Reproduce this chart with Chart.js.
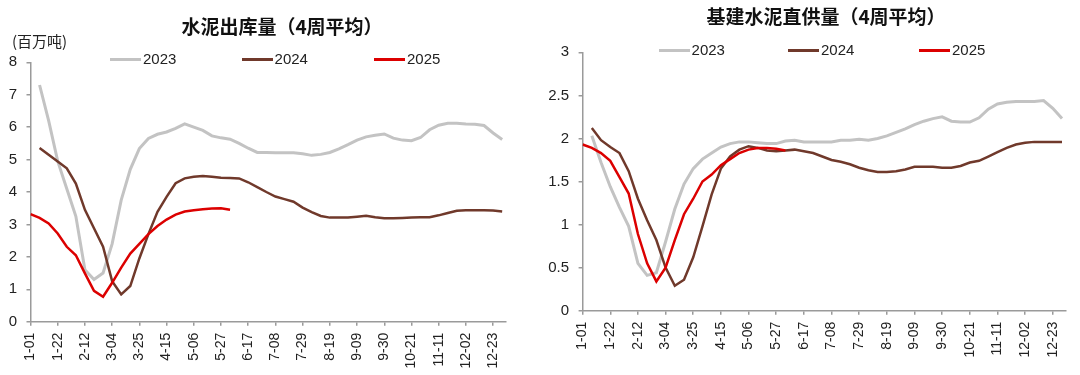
<!DOCTYPE html>
<html>
<head>
<meta charset="utf-8">
<script src="https://cdn.jsdelivr.net/npm/chart.js@4.4.1/dist/chart.umd.min.js"></script>
<style>
  body { margin: 0; background: #fff; }
  #page { position: relative; width: 1080px; height: 375px; overflow: hidden; background: #fff; }
  .panel { position: absolute; top: 0; width: 540px; height: 375px; }
  .title { position: absolute; font: bold 19px "Noto Sans CJK SC", sans-serif; color: #111;
           transform: translateX(-50%); white-space: nowrap; line-height: 24px; }
  .unit { position: absolute; font: 15px "Noto Sans CJK SC", sans-serif; color: #222; line-height: 18px; }
  .lg-line { position: absolute; width: 31px; height: 3px; }
  .lg-text { position: absolute; font: 15px "Liberation Sans", Arial, sans-serif; color: #222; line-height: 18px; }
</style>
</head>
<body>
<div id="page">
  <div class="panel" style="left:0"><canvas id="leftChart" width="540" height="375"></canvas></div>
  <div class="panel" style="left:540px"><canvas id="rightChart" width="540" height="375"></canvas></div>
  <div class="title" style="left:282px; top:14px">水泥出库量（4周平均）</div>
  <div class="title" style="left:826px; top:4px">基建水泥直供量（4周平均）</div>
  <div class="unit" style="left:12px; top:32px">(百万吨)</div>
  <div id="legends"></div>
</div>
<script>
// 周度日期标签（x轴）
const weeks = ['1-01','1-08','1-15','1-22','1-29','2-05','2-12','2-19','2-26','3-04','3-11','3-18','3-25',
  '4-01','4-08','4-15','4-22','4-29','5-06','5-13','5-20','5-27','6-03','6-10','6-17','6-24',
  '7-01','7-08','7-15','7-22','7-29','8-05','8-12','8-19','8-26','9-02','9-09','9-16','9-23','9-30',
  '10-07','10-14','10-21','10-28','11-04','11-11','11-18','11-25','12-02','12-09','12-16','12-23','12-30'];

const seriesNames = ['2023', '2024', '2025'];
const seriesColors = ['#c3c3c3', '#70392b', '#dc0000'];

// 水泥出库量（百万吨）
const outbound2023 = [null, 7.3, 6.2, 4.95, 4.1, 3.25, 1.6, 1.3, 1.5, 2.4, 3.75, 4.7, 5.34, 5.65, 5.78, 5.85, 5.96, 6.1, 6.0, 5.9,
  5.73, 5.67, 5.63, 5.5, 5.35, 5.22, 5.22, 5.21, 5.21, 5.21, 5.18, 5.13, 5.16, 5.22, 5.33, 5.46, 5.6, 5.7, 5.75, 5.79,
  5.66, 5.6, 5.58, 5.68, 5.92, 6.06, 6.12, 6.12, 6.1, 6.09, 6.05, 5.82, 5.62];
const outbound2024 = [null, 5.36, 5.15, 4.94, 4.73, 4.26, 3.45, 2.88, 2.31, 1.25, 0.84, 1.1, 1.95, 2.7, 3.39, 3.85, 4.27, 4.42, 4.47, 4.49,
  4.47, 4.44, 4.43, 4.42, 4.3, 4.15, 4.0, 3.86, 3.78, 3.7, 3.52, 3.38, 3.26, 3.21, 3.21, 3.21, 3.24, 3.27, 3.22, 3.19,
  3.19, 3.2, 3.21, 3.22, 3.22, 3.28, 3.35, 3.42, 3.44, 3.44, 3.44, 3.43, 3.4];
const outbound2025 = [3.32, 3.2, 3.03, 2.72, 2.31, 2.05, 1.49, 0.95, 0.77, 1.2, 1.67, 2.1, 2.4, 2.7, 2.95, 3.15, 3.3, 3.4, 3.44, 3.47,
  3.49, 3.5, 3.45];

// 基建水泥直供量
const direct2023 = [null, 2.03, 1.72, 1.44, 1.2, 0.98, 0.55, 0.41, 0.44, 0.8, 1.18, 1.47, 1.65, 1.76, 1.83, 1.9, 1.94, 1.96, 1.96, 1.95,
  1.94, 1.94, 1.97, 1.98, 1.96, 1.96, 1.96, 1.96, 1.98, 1.98, 1.99, 1.98, 2.0, 2.03, 2.07, 2.11, 2.16, 2.2, 2.23, 2.25,
  2.2, 2.19, 2.19, 2.24, 2.34, 2.4, 2.42, 2.43, 2.43, 2.43, 2.44, 2.35, 2.23];
const direct2024 = [null, 2.12, 1.98, 1.9, 1.83, 1.62, 1.3, 1.05, 0.82, 0.5, 0.29, 0.36, 0.62, 0.98, 1.35, 1.65, 1.79, 1.87, 1.91, 1.89,
  1.86, 1.85, 1.86, 1.87, 1.85, 1.83, 1.79, 1.75, 1.73, 1.7, 1.66, 1.63, 1.61, 1.61, 1.62, 1.64, 1.67, 1.67, 1.67, 1.66,
  1.66, 1.68, 1.72, 1.74, 1.79, 1.84, 1.89, 1.93, 1.95, 1.96, 1.96, 1.96, 1.96];
const direct2025 = [1.93, 1.89, 1.83, 1.74, 1.55, 1.36, 0.89, 0.55, 0.34, 0.5, 0.82, 1.12, 1.3, 1.5, 1.58, 1.69, 1.76, 1.83, 1.87, 1.89,
  1.89, 1.88, 1.86];

const axisColor = '#9a9a9a';
const tickFont = { family: '"Liberation Sans", Arial, sans-serif', size: 15 };

function toPoints(arr) {
  return arr.map((v, i) => ({ x: i, y: v }));
}

function makeChart(id, series, yMax, yStep, box) {
  const datasets = series.map((arr, k) => ({
    label: seriesNames[k],
    data: toPoints(arr),
    borderColor: seriesColors[k],
    borderWidth: k === 0 ? 3 : 2.5,
    pointRadius: 0,
    tension: 0,
    spanGaps: false,
    order: 3 - k
  }));

  new Chart(document.getElementById(id), {
    type: 'line',
    data: { datasets },
    options: {
      responsive: false,
      animation: false,
      layout: { padding: { top: box.top, right: box.right, bottom: 0, left: 0 } },
      plugins: { legend: { display: false }, title: { display: false }, tooltip: { enabled: false } },
      scales: {
        x: {
          type: 'linear',
          min: 0,
          max: 52.4,
          afterFit: s => { s.height = box.xHeight; },
          border: { color: axisColor, width: 1.5 },
          grid: { drawOnChartArea: false, drawTicks: true, tickLength: 4, color: axisColor, lineWidth: 1.5 },
          ticks: {
            stepSize: 3,
            includeBounds: false,
            autoSkip: false,
            minRotation: 90,
            maxRotation: 90,
            padding: 7,
            color: '#222',
            font: { family: tickFont.family, size: 14 },
            callback: v => weeks[v]
          }
        },
        y: {
          min: 0,
          max: yMax,
          afterFit: s => { s.width = box.yWidth; },
          border: { color: axisColor, width: 1.5 },
          grid: { drawOnChartArea: false, drawTicks: true, tickLength: 4, color: axisColor, lineWidth: 1.5 },
          ticks: {
            stepSize: yStep,
            padding: 9.5,
            color: '#222',
            font: tickFont,
            callback: v => String(v)
          }
        }
      }
    }
  });
}

makeChart('leftChart', [outbound2023, outbound2024, outbound2025], 8, 1,
  { top: 62.3, right: 34.2, xHeight: 53.3, yWidth: 30.5 });
makeChart('rightChart', [direct2023, direct2024, direct2025], 3, 0.5,
  { top: 52.3, right: 14.3, xHeight: 64.3, yWidth: 42.6 });

// 图例（手工放置，贴近原图位置）
const legendSpots = [
  { y: 59.3, xs: [110, 241.6, 374] },
  { y: 50, xs: [658.6, 788, 919] }
];
const lg = document.getElementById('legends');
legendSpots.forEach(spot => {
  seriesNames.forEach((name, k) => {
    const line = document.createElement('div');
    line.className = 'lg-line';
    line.style.left = spot.xs[k] + 'px';
    line.style.top = (spot.y - 1.5) + 'px';
    line.style.background = seriesColors[k];
    lg.appendChild(line);
    const txt = document.createElement('div');
    txt.className = 'lg-text';
    txt.textContent = name;
    txt.style.left = (spot.xs[k] + 33) + 'px';
    txt.style.top = (spot.y - 9) + 'px';
    lg.appendChild(txt);
  });
});
</script>
</body>
</html>
